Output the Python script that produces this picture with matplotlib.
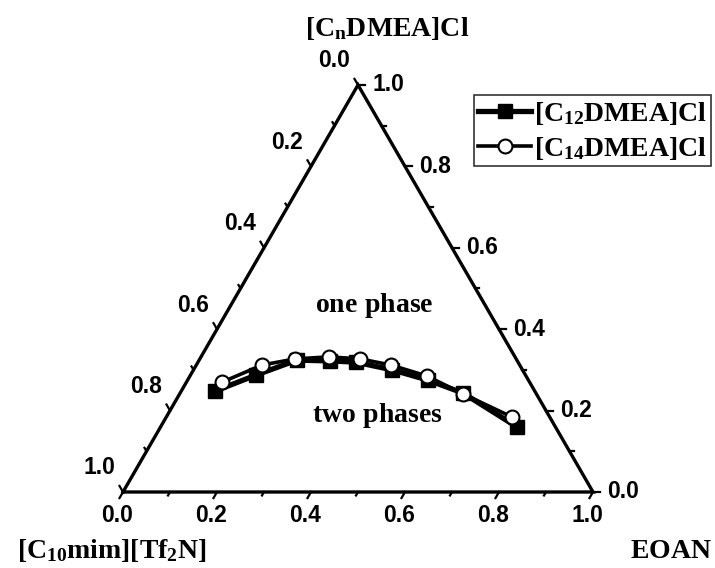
import numpy as np
import matplotlib
matplotlib.use("Agg")
import matplotlib.pyplot as plt

# ternary data: EOAN fraction (bottom axis) and [CnDMEA]Cl fraction (right axis)
eoan_c12 = [0.072, 0.139, 0.208, 0.280, 0.336, 0.423, 0.511, 0.602, 0.758]
dmea_c12 = [0.248, 0.287, 0.324, 0.322, 0.319, 0.300, 0.275, 0.243, 0.160]
eoan_c14 = [0.076, 0.140, 0.203, 0.272, 0.341, 0.414, 0.504, 0.603, 0.736]
dmea_c14 = [0.270, 0.312, 0.327, 0.332, 0.327, 0.312, 0.285, 0.241, 0.184]

tick_vals = [0.0, 0.2, 0.4, 0.6, 0.8, 1.0]
tick_labels = ["0.0", "0.2", "0.4", "0.6", "0.8", "1.0"]

series_labels = [r"$\mathbf{[C_{12}DMEA]Cl}$", r"$\mathbf{[C_{14}DMEA]Cl}$"]

plt.rcParams["mathtext.fontset"] = "custom"
plt.rcParams["mathtext.rm"] = "Liberation Serif:bold"
plt.rcParams["mathtext.bf"] = "Liberation Serif:bold"
plt.rcParams["mathtext.it"] = "Liberation Serif:bold"

H = np.sqrt(3) / 2
P = 470.0  # pixels per unit side


def tern(b, c):
    b = np.asarray(b)
    c = np.asarray(c)
    return b + c / 2, c * H


def px(x, y):
    # pixel position in the figure -> data coords
    return (x - 123) / P, (492 - y) / P


fig = plt.figure(figsize=(7.15, 5.68), dpi=100)
ax = fig.add_axes([0, 0, 1, 1])
ax.set_xlim(-123 / P, 592 / P)
ax.set_ylim(-76 / P, 492 / P)
ax.axis("off")

# triangle frame
ax.plot([0, 1, 0.5, 0], [0, 0, H, 0], color="black", lw=2.4, solid_joinstyle="miter", zorder=2)

tick_font = dict(family="Liberation Sans", fontweight="bold", fontsize=16.5)

# ticks
for i in range(11):
    v = i / 10
    L = 7 if i % 2 == 0 else 4
    # bottom axis, EOAN
    x0, y0 = tern(v, 0)
    d = np.array([-0.5, -H]) * L / P
    ax.plot([x0, x0 + d[0]], [y0, y0 + d[1]], color="black", lw=1.6)
    # right axis, CnDMEA
    x0, y0 = tern(1 - v, v)
    ax.plot([x0, x0 + L / P], [y0, y0], color="black", lw=1.6)
    # left axis, C10mim (value v at b=0, c=1-v)
    x0, y0 = tern(0, 1 - v)
    d = np.array([-0.5, H]) * L / P
    ax.plot([x0, x0 + d[0]], [y0, y0 + d[1]], color="black", lw=1.6)

for v, lab in zip(tick_vals, tick_labels):
    x0, y0 = tern(v, 0)
    ax.text(x0 - 6 / P, y0 - 24 / P, lab, ha="center", va="center", **tick_font)
    x0, y0 = tern(1 - v, v)
    ax.text(x0 + 14 / P, y0, lab, ha="left", va="center", **tick_font)
    x0, y0 = tern(0, 1 - v)
    ax.text(x0 - 24 / P, y0 + 24 / P, lab, ha="center", va="center", **tick_font)

# data
x12, y12 = tern(eoan_c12, dmea_c12)
x14, y14 = tern(eoan_c14, dmea_c14)
ax.plot(x12, y12, color="black", lw=3.8, marker="s", ms=10.5, mfc="black", mec="black",
        label=series_labels[0], zorder=3)
ax.plot(x14, y14, color="black", lw=2.6, marker="o", ms=10, mfc="white", mec="black",
        mew=1.5, label=series_labels[1], zorder=4)

# region and component labels
lab_kw = dict(ha="center", va="center", fontsize=20)
ax.text(*px(374, 305), r"$\mathbf{one\ phase}$", **lab_kw)
ax.text(*px(377, 416), r"$\mathbf{two\ phases}$", **lab_kw)
ax.text(*px(387, 28), r"$\mathbf{[C_{n}DMEA]Cl}$", **lab_kw)
ax.text(*px(112, 550), r"$\mathbf{[C_{10}mim][Tf_{2}N]}$", **lab_kw)
ax.text(*px(671, 550), r"$\mathbf{EOAN}$", **lab_kw)

leg = ax.legend(loc="upper left", bbox_to_anchor=(474 / 715, 1 - 95 / 568),
                bbox_transform=fig.transFigure, frameon=True, fancybox=False,
                fontsize=20, handlelength=1.9, handletextpad=0.1, borderpad=0.15,
                borderaxespad=0, labelspacing=0.25)
leg.get_frame().set_edgecolor("black")
leg.get_frame().set_linewidth(1.2)

fig.savefig("out.png", dpi=100)
